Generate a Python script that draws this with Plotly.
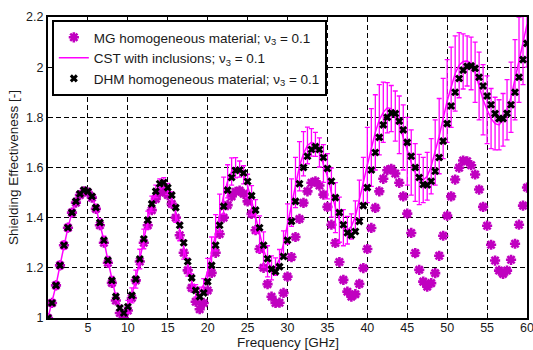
import plotly.graph_objects as go

freq = [0, 0.5, 1, 1.5, 2, 2.5, 3, 3.5, 4, 4.5,
        5, 5.5, 6, 6.5, 7, 7.5, 8, 8.5, 9, 9.5,
        10, 10.5, 11, 11.5, 12, 12.5, 13, 13.5, 14, 14.5,
        15, 15.5, 16, 16.5, 17, 17.5, 18, 18.5, 19, 19.5,
        20, 20.5, 21, 21.5, 22, 22.5, 23, 23.5, 24, 24.5,
        25, 25.5, 26, 26.5, 27, 27.5, 28, 28.5, 29, 29.5,
        30, 30.5, 31, 31.5, 32, 32.5, 33, 33.5, 34, 34.5,
        35, 35.5, 36, 36.5, 37, 37.5, 38, 38.5, 39, 39.5,
        40, 40.5, 41, 41.5, 42, 42.5, 43, 43.5, 44, 44.5,
        45, 45.5, 46, 46.5, 47, 47.5, 48, 48.5, 49, 49.5,
        50, 50.5, 51, 51.5, 52, 52.5, 53, 53.5, 54, 54.5,
        55, 55.5, 56, 56.5, 57, 57.5, 58, 58.5, 59, 59.5,
        60]

mg_se = [1.00, 1.06, 1.13, 1.21, 1.29, 1.36, 1.42, 1.46, 1.49, 1.505,
         1.50, 1.48, 1.435, 1.37, 1.30, 1.22, 1.14, 1.07, 1.02, 1.00,
         1.03, 1.08, 1.15, 1.225, 1.30, 1.37, 1.43, 1.475, 1.50, 1.505,
         1.49, 1.455, 1.40, 1.33, 1.26, 1.19, 1.12, 1.065, 1.035, 1.06,
         1.11, 1.18, 1.26, 1.335, 1.40, 1.45, 1.485, 1.503, 1.508, 1.495,
         1.465, 1.415, 1.35, 1.275, 1.20, 1.135, 1.085, 1.06, 1.061, 1.10,
         1.165, 1.243, 1.323, 1.395, 1.459, 1.505, 1.539, 1.545, 1.528, 1.492,
         1.443, 1.372, 1.299, 1.223, 1.152, 1.105, 1.085, 1.095, 1.136, 1.199,
         1.275, 1.359, 1.439, 1.505, 1.555, 1.589, 1.595, 1.576, 1.539, 1.485,
         1.416, 1.339, 1.259, 1.192, 1.145, 1.125, 1.139, 1.179, 1.248, 1.328,
         1.408, 1.485, 1.552, 1.599, 1.628, 1.625, 1.609, 1.572, 1.512, 1.443,
         1.368, 1.292, 1.229, 1.189, 1.176, 1.189, 1.232, 1.296, 1.372, 1.448,
         1.52]

cst_se = [1.00, 1.06, 1.13, 1.21, 1.29, 1.36, 1.42, 1.465, 1.495, 1.51,
          1.505, 1.485, 1.44, 1.38, 1.31, 1.23, 1.15, 1.085, 1.04, 1.02,
          1.045, 1.09, 1.155, 1.235, 1.315, 1.39, 1.455, 1.505, 1.535, 1.54,
          1.515, 1.475, 1.415, 1.345, 1.273, 1.203, 1.145, 1.108, 1.103, 1.133,
          1.188, 1.26, 1.34, 1.418, 1.488, 1.545, 1.584, 1.599, 1.594, 1.571,
          1.526, 1.469, 1.405, 1.335, 1.273, 1.226, 1.20, 1.205, 1.235, 1.295,
          1.375, 1.46, 1.54, 1.605, 1.655, 1.688, 1.70, 1.692, 1.66, 1.616,
          1.565, 1.50, 1.44, 1.392, 1.36, 1.35, 1.365, 1.405, 1.468, 1.54,
          1.61, 1.68, 1.74, 1.79, 1.82, 1.838, 1.835, 1.805, 1.77, 1.72,
          1.665, 1.62, 1.58, 1.552, 1.55, 1.565, 1.605, 1.66, 1.725, 1.795,
          1.865, 1.92, 1.975, 2.008, 2.023, 2.025, 2.015, 1.98, 1.925, 1.87,
          1.83, 1.795, 1.775, 1.77, 1.79, 1.83, 1.88, 1.95, 2.03, 2.10,
          2.17]

cst_err = [0.005, 0.013, 0.015, 0.016, 0.016, 0.015, 0.014, 0.012, 0.010, 0.009,
           0.008, 0.010, 0.013, 0.015, 0.016, 0.016, 0.016, 0.014, 0.011, 0.009,
           0.025, 0.030, 0.036, 0.039, 0.039, 0.036, 0.031, 0.025, 0.020, 0.020,
           0.022, 0.028, 0.034, 0.037, 0.038, 0.036, 0.031, 0.025, 0.020, 0.024,
           0.050, 0.063, 0.072, 0.076, 0.074, 0.066, 0.054, 0.040, 0.032, 0.036,
           0.047, 0.059, 0.067, 0.072, 0.070, 0.062, 0.048, 0.035, 0.038, 0.052,
           0.080, 0.095, 0.100, 0.098, 0.088, 0.073, 0.055, 0.048, 0.058, 0.075,
           0.090, 0.098, 0.100, 0.090, 0.072, 0.055, 0.050, 0.062, 0.082, 0.100,
           0.150, 0.155, 0.150, 0.140, 0.120, 0.100, 0.092, 0.100, 0.115, 0.130,
           0.135, 0.130, 0.115, 0.100, 0.090, 0.095, 0.110, 0.130, 0.150, 0.160,
           0.165, 0.160, 0.150, 0.130, 0.110, 0.100, 0.105, 0.120, 0.135, 0.140,
           0.135, 0.120, 0.105, 0.100, 0.105, 0.120, 0.140, 0.160, 0.170, 0.170,
           0.170]

dhm_se = [1.00, 1.06, 1.13, 1.21, 1.29, 1.36, 1.42, 1.465, 1.495, 1.51,
          1.505, 1.485, 1.44, 1.38, 1.31, 1.23, 1.15, 1.085, 1.04, 1.02,
          1.045, 1.09, 1.155, 1.235, 1.315, 1.39, 1.455, 1.505, 1.535, 1.54,
          1.52, 1.49, 1.44, 1.37, 1.30, 1.225, 1.16, 1.11, 1.085, 1.10,
          1.145, 1.21, 1.29, 1.37, 1.445, 1.51, 1.56, 1.588, 1.59, 1.578,
          1.544, 1.488, 1.43, 1.36, 1.29, 1.236, 1.195, 1.185, 1.205, 1.245,
          1.31, 1.385, 1.465, 1.535, 1.60, 1.645, 1.672, 1.683, 1.672, 1.64,
          1.596, 1.545, 1.48, 1.42, 1.372, 1.34, 1.33, 1.345, 1.385, 1.448,
          1.52, 1.59, 1.66, 1.72, 1.77, 1.80, 1.818, 1.815, 1.785, 1.75,
          1.70, 1.645, 1.60, 1.56, 1.532, 1.53, 1.545, 1.585, 1.64, 1.705,
          1.775, 1.845, 1.90, 1.955, 1.988, 2.003, 2.005, 1.995, 1.96, 1.925,
          1.885, 1.85, 1.815, 1.795, 1.795, 1.816, 1.85, 1.90, 1.96, 2.03,
          2.095]

x_ticks = [5, 10, 15, 20, 25, 30, 35, 40, 45, 50, 55, 60]
y_ticks = [1, 1.2, 1.4, 1.6, 1.8, 2, 2.2]
y_tick_text = ["1", "1.2", "1.4", "1.6", "1.8", "2", "2.2"]

MG_COLOR = "#c000c0"
CST_COLOR = "#ff00ff"

fig = go.Figure()
fig.add_trace(go.Scatter(
    x=freq, y=mg_se, mode="markers",
    name="MG homogeneous material; ν<sub>3</sub> = 0.1",
    marker=dict(symbol="asterisk-open", size=8.5, color=MG_COLOR,
                line=dict(width=2.6, color=MG_COLOR)),
))
fig.add_trace(go.Scatter(
    x=freq, y=cst_se, mode="lines",
    name="CST with inclusions; ν<sub>3</sub> = 0.1",
    line=dict(color=CST_COLOR, width=1.5),
    error_y=dict(type="data", array=cst_err, visible=True,
                 color=CST_COLOR, thickness=1.3, width=2.5),
))
fig.add_trace(go.Scatter(
    x=freq, y=dhm_se, mode="markers",
    name="DHM homogeneous material; ν<sub>3</sub> = 0.1",
    marker=dict(symbol="x-thin-open", size=6, color="black",
                line=dict(width=3, color="black")),
))

fig.update_layout(
    width=533, height=350,
    margin=dict(l=48, r=6, t=17, b=32),
    paper_bgcolor="white", plot_bgcolor="white",
    font=dict(family="Liberation Sans, Arial, sans-serif", size=13, color="#1a1a1a"),
    showlegend=True,
    legend=dict(x=0.008, y=0.99, xanchor="left", yanchor="top",
                bgcolor="white", bordercolor="black", borderwidth=2,
                font=dict(size=13.5, color="#1a1a1a"), tracegroupgap=0),
    annotations=[dict(
        text="Frequency [GHz]", xref="paper", yref="paper",
        x=0.5, y=0, xanchor="center", yanchor="middle", yshift=-24,
        showarrow=False, font=dict(size=13.5, color="#1a1a1a"),
    )],
)
fig.update_xaxes(
    range=[0, 60], tickvals=x_ticks, ticks="", ticklabeloverflow="allow",
    ticklabelstandoff=-3,
    showgrid=True, gridcolor="black", gridwidth=1.2, griddash="5px,3px",
    showline=True, mirror=True, linecolor="black", linewidth=2,
    zeroline=False, automargin=False,
    tickfont=dict(size=12.5),
)
fig.update_yaxes(
    range=[1, 2.2], tickvals=y_ticks, ticktext=y_tick_text, ticks="",
    ticklabeloverflow="allow",
    showgrid=True, gridcolor="black", gridwidth=1.2, griddash="5px,3px",
    showline=True, mirror=True, linecolor="black", linewidth=2,
    zeroline=False, automargin=False,
    tickfont=dict(size=12.5),
    title=dict(text="Shielding Effectiveness [-]", standoff=4, font=dict(size=13.5)),
)

fig.write_html("out.html")
